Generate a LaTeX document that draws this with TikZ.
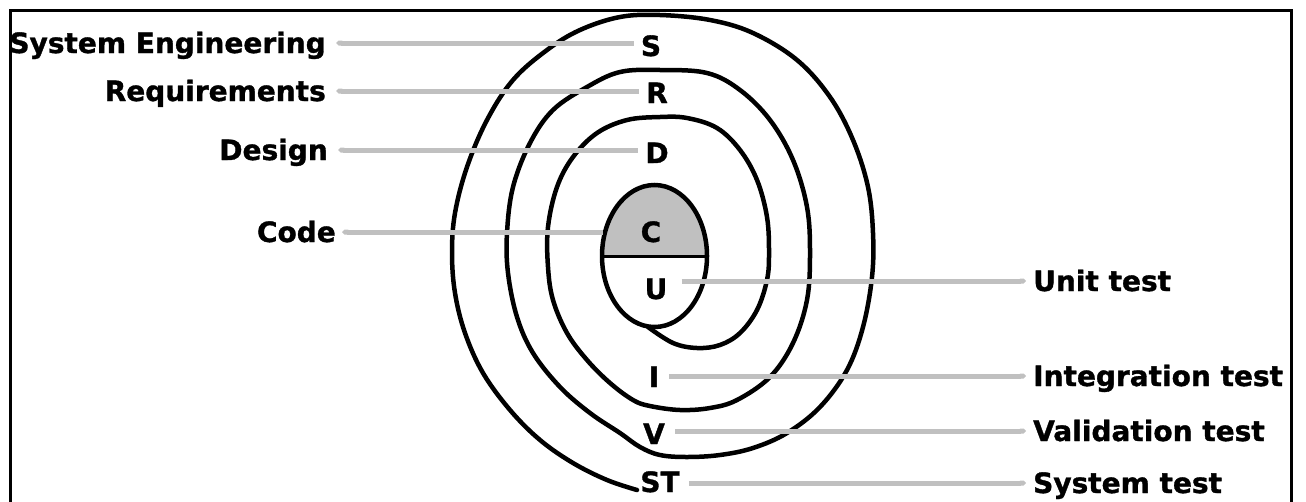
\documentclass[tikz,border=0pt]{standalone}
\usepackage{fontspec}
\setmainfont{DejaVu Sans}[BoldFeatures={FakeBold=1.2}]
\usetikzlibrary{arrows.meta}
\definecolor{leadgray}{RGB}{192,192,192}
\begin{document}
\begin{tikzpicture}[x=1pt,y=-1pt,
  lbl/.style={font=\fontsize{28}{30}\selectfont\bfseries, inner sep=0pt, text height=20pt, text depth=0pt},
  ltr/.style={font=\fontsize{28}{30}\selectfont\bfseries, inner sep=0pt, text height=20pt, text depth=0pt},
  leadl/.style={draw=leadgray, line width=5pt, {Triangle Cap}-},
  leadr/.style={draw=leadgray, line width=5pt, -{Triangle Cap}},
  ring/.style={line width=4.5pt, line join=round, line cap=round}]
\useasboundingbox (0,0) rectangle (1306,501);
% frame
\draw[line width=3pt] (10,503) -- (10,10) -- (1291,10) -- (1291,503);
% inner ellipse (code / unit test)
\fill[leadgray] (602,256) arc[start angle=180,end angle=0,x radius=52.5pt,y radius=71pt] -- cycle;
\draw[line width=4.5pt] (654.5,256) ellipse[x radius=52.5pt,y radius=71pt];
\draw[line width=3pt] (602,256) -- (707,256);
% spiral
\draw[ring] plot[smooth, tension=0.6] coordinates {
(648,327) (673,343) (697,348) (720,345) (740,333) (757,310) (767,280) (769,253)
(767,217) (757,180) (740,150) (717,128) (687,118) (660,117) (627,120) (597,133)
(573,157) (557,187) (548,227) (548,267) (553,300) (567,333) (587,360) (610,383)
(633,400) (650,406) (680,410) (710,408) (737,400) (770,377) (793,343) (807,300)
(810,253) (807,207) (793,160) (770,120) (740,90) (707,73) (660,70) (620,72)
(587,87) (553,110) (530,143) (513,187) (507,233) (508,273) (517,317) (533,353)
(560,387) (590,413) (620,433) (640,447) (660,455) (687,457) (720,455) (753,448)
(787,433) (820,407) (847,370) (863,327) (872,277) (873,233) (868,187) (853,140)
(830,97) (797,60) (753,33) (710,20) (660,15) (620,17) (580,30) (547,50)
(513,80) (487,120) (467,167) (455,213) (452,253) (455,293) (465,333) (483,373)
(510,410) (540,440) (573,463) (607,480) (637,490)};
% letters
\node[ltr] (S) at (651,46) {S};
\node[ltr] (R) at (657,93) {R};
\node[ltr] (D) at (657,153) {D};
\node[ltr] (C) at (651,232) {C};
\node[ltr] (U) at (656,289) {U};
\node[ltr] (I) at (654,377) {I};
\node[ltr] (V) at (654,434) {V};
\node[ltr] (ST) at (660,482) {ST};
\coordinate (ce) at (603,232);
% left labels
\node[lbl, anchor=east] (se) at (326,43) {System Engineering};
\node[lbl, anchor=east] (req) at (326,91) {Requirements};
\node[lbl, anchor=east] (des) at (328,150) {Design};
\node[lbl, anchor=east] (code) at (336,232) {Code};
% right labels
\node[lbl, anchor=west] (ut) at (1033,281) {Unit test};
\node[lbl, anchor=west] (it) at (1033,376) {Integration test};
\node[lbl, anchor=west] (vt) at (1033,431) {Validation test};
\node[lbl, anchor=west] (st) at (1033,483) {System test};
% leaders
\draw[leadl] ([xshift=10pt]se.east) -- ([xshift=-7pt]se.east -| S.west);
\draw[leadl] ([xshift=10pt]req.east) -- ([xshift=-7pt]req.east -| R.west);
\draw[leadl] ([xshift=10pt]des.east) -- ([xshift=-7pt]des.east -| D.west);
\draw[leadl] ([xshift=6pt]code.east) -- (ce);
\draw[leadr] ([xshift=14pt]ut.west -| U.east) -- ([xshift=-7pt]ut.west);
\draw[leadr] ([xshift=10pt]it.west -| I.east) -- ([xshift=-7pt]it.west);
\draw[leadr] ([xshift=10pt]vt.west -| V.east) -- ([xshift=-7pt]vt.west);
\draw[leadr] ([xshift=9pt]st.west -| ST.east) -- ([xshift=-7pt]st.west);
\end{tikzpicture}
\end{document}
